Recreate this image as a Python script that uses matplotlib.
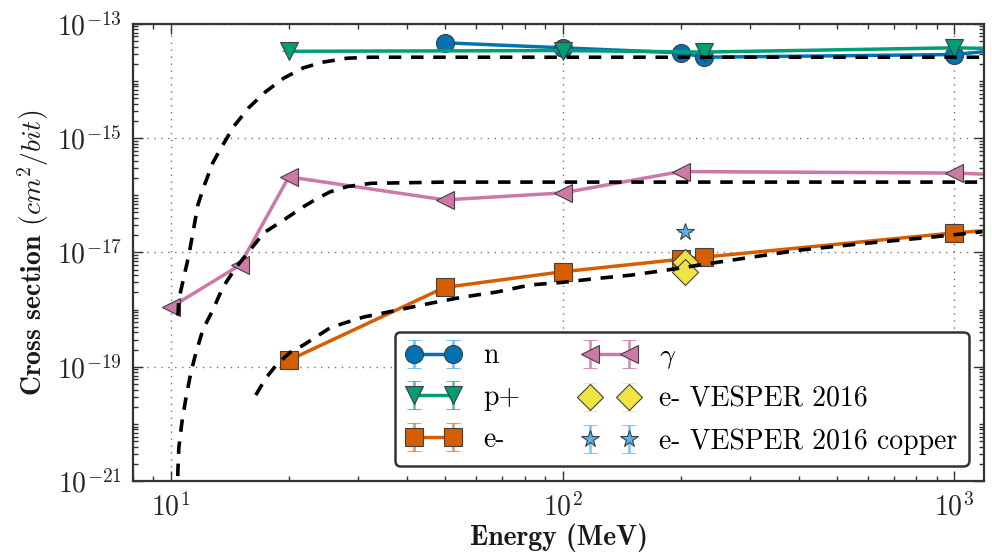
import numpy as np
import matplotlib
matplotlib.use("Agg")
import matplotlib.pyplot as plt
from matplotlib.colors import to_rgba
from matplotlib.ticker import LogLocator, NullFormatter

plt.rcParams["font.family"] = "serif"
plt.rcParams["font.serif"] = ["cmr10"]
plt.rcParams["mathtext.fontset"] = "cm"
plt.rcParams["axes.unicode_minus"] = False
plt.rcParams["axes.formatter.use_mathtext"] = True
plt.rcParams["lines.scale_dashes"] = False

# measured cross sections (MeV, cm^2/bit)
n_E = [50, 100, 200, 230, 1000, 1500]
n_sig = [4.65e-14, 3.8e-14, 3.1e-14, 2.6e-14, 2.9e-14, 3.8e-14]
n_err = [0, 0, 0, 0, 0, 0]

p_E = [20, 100, 230, 1000, 1500]
p_sig = [3.3e-14, 3.4e-14, 3.2e-14, 3.8e-14, 3.6e-14]
p_err = [0, 0, 0, 0, 0]

e_E = [20, 50, 100, 200, 230, 1000, 1500]
e_sig = [1.3e-19, 2.45e-18, 4.6e-18, 7.6e-18, 8.3e-18, 2.2e-17, 2.7e-17]
e_err = [0, 0, 0, 0, 0, 0, 0]

g_E = [10, 15, 20, 50, 100, 200, 1000, 1500]
g_sig = [1.1e-18, 6.0e-18, 2.1e-16, 8.3e-17, 1.1e-16, 2.6e-16, 2.45e-16, 2.2e-16]
g_err = [0, 0, 0, 0, 0, 0, 0, 0]

vesper_E = [205, 205]
vesper_sig = [6.8e-18, 4.6e-18]
vesper_err = [0, 0]

copper_E = [205]
copper_sig = [2.3e-17]
copper_err = [0]

# Weibull fits
fit_hadron_E = [10.42, 10.48, 10.79, 11.11, 11.38, 11.72, 12.13, 12.79, 13.57,
                14.47, 15.80, 17.46, 19.41, 21.8, 24.5, 28.2, 32.4, 50, 100,
                1000, 1200]
fit_hadron_sig = [7.9e-19, 1.5e-18, 3.7e-18, 8.9e-18, 2.2e-17, 6.8e-17, 1.4e-16,
                  3.7e-16, 7.6e-16, 1.6e-15, 3.4e-15, 6.5e-15, 1.12e-14, 1.7e-14,
                  2.14e-14, 2.5e-14, 2.6e-14, 2.6e-14, 2.6e-14, 2.6e-14, 2.6e-14]

fit_gamma_E = [10.40, 10.42, 10.48, 10.67, 10.92, 11.24, 11.58, 12.06, 12.79,
               13.57, 14.64, 15.71, 17.26, 19.41, 21.8, 23.5, 25.5, 28.2, 32.4,
               50, 100, 1000, 1200]
fit_gamma_sig = [5e-22, 1.55e-21, 3.9e-21, 1.07e-20, 2.8e-20, 7.8e-20, 1.74e-19,
                 4.4e-19, 9.8e-19, 2.45e-18, 5.4e-18, 9.8e-18, 2.2e-17, 3.7e-17,
                 6.3e-17, 8.6e-17, 1.15e-16, 1.42e-16, 1.62e-16, 1.7e-16,
                 1.7e-16, 1.7e-16, 1.7e-16]

fit_e_E = [16.47, 17.46, 18.74, 20.2, 21.8, 25.6, 31.0, 37.9, 45.9, 55.7, 68.1,
           82.6, 100, 122, 149, 184, 272, 403, 597, 879, 1178]
fit_e_sig = [3.2e-20, 6.3e-20, 1.15e-19, 1.8e-19, 2.4e-19, 4.9e-19, 7.4e-19,
             9.8e-19, 1.29e-18, 1.66e-18, 2.04e-18, 2.7e-18, 3.0e-18, 3.5e-18,
             4.0e-18, 4.9e-18, 7.4e-18, 1.1e-17, 1.45e-17, 1.86e-17, 2.3e-17]

blue = "#0072B2"
green = "#009E73"
orange = "#D55E00"
pink = "#CC79A7"
yellow = "#F0E442"
sky = "#56B4E9"

fig = plt.figure(figsize=(9.92, 5.53), dpi=100)
ax = fig.add_axes([0.134, 0.130, 0.858, 0.827])

mk = dict(ms=13, mec="0.25", mew=0.8, capsize=5, elinewidth=2, capthick=2)
ax.errorbar(n_E, n_sig, yerr=n_err, color=blue, marker="o", lw=2.5,
            ecolor=to_rgba(sky, 0.8), label="n", **mk)
ax.errorbar(p_E, p_sig, yerr=p_err, color=green, marker="v", lw=2.5,
            ecolor=to_rgba(green, 0.6), label="p+", **mk)
ax.errorbar(e_E, e_sig, yerr=e_err, color=orange, marker="s", lw=2.5,
            ecolor=to_rgba(orange, 0.6), label="e-", **mk)
ax.errorbar(g_E, g_sig, yerr=g_err, color=pink, marker="<", lw=2.5,
            ecolor=to_rgba(pink, 0.8), label=r"$\gamma$", **mk)
ax.errorbar(vesper_E, vesper_sig, yerr=vesper_err, ls="none", marker="D",
            color=yellow, ecolor=to_rgba(yellow, 0.6), zorder=4,
            label="e- VESPER 2016", **mk)
ax.errorbar(copper_E, copper_sig, yerr=copper_err, ls="none", marker="*",
            color=sky, ecolor=to_rgba(sky, 0.7), zorder=4,
            label="e- VESPER 2016 copper", **mk)

for fe, fs in [(fit_hadron_E, fit_hadron_sig), (fit_gamma_E, fit_gamma_sig),
               (fit_e_E, fit_e_sig)]:
    ax.plot(fe, fs, color="k", lw=2.6, dashes=(9, 7), zorder=5)

ax.set_xscale("log")
ax.set_yscale("log")
ax.set_xlim(8, 1190)
ax.set_ylim(1e-21, 1e-13)
ax.set_yticks([1e-21, 1e-19, 1e-17, 1e-15, 1e-13])
ax.yaxis.set_minor_locator(LogLocator(base=10, subs=np.arange(1, 10), numticks=40))
ax.yaxis.set_minor_formatter(NullFormatter())
ax.xaxis.set_minor_locator(LogLocator(base=10, subs=np.arange(2, 10), numticks=40))
ax.xaxis.set_minor_formatter(NullFormatter())

ax.grid(True, which="major", color="0.45", ls=(0, (1, 4)), lw=1)
ax.tick_params(which="both", direction="in", top=True, right=True,
               colors="0.2", labelcolor="0.15", labelsize=20)
ax.tick_params(which="major", length=7, width=1, pad=8)
ax.tick_params(which="minor", length=3.5, width=1)
for sp in ax.spines.values():
    sp.set_linewidth(1.6)
    sp.set_color("0.2")

ax.set_xlabel("Energy (MeV)", family="cmb10", fontsize=20, color="0.1",
              labelpad=2)
ax.set_ylabel(r"Cross section $(cm^2/bit)$", family="cmb10", fontsize=20,
              color="0.1", labelpad=4)

order = ["n", "p+", "e-", r"$\gamma$", "e- VESPER 2016", "e- VESPER 2016 copper"]
handles, labels = ax.get_legend_handles_labels()
lookup = dict(zip(labels, handles))
leg = ax.legend([lookup[k] for k in order], order, loc="lower right", ncol=2,
                numpoints=2, fontsize=20, frameon=True, fancybox=True,
                borderaxespad=0.55, columnspacing=2.2, handlelength=2.0,
                labelspacing=0.55, borderpad=0.4)
leg.get_frame().set_edgecolor("0.2")
leg.get_frame().set_linewidth(1.8)
leg.get_frame().set_alpha(1)

fig.savefig("out.png", dpi=100)
